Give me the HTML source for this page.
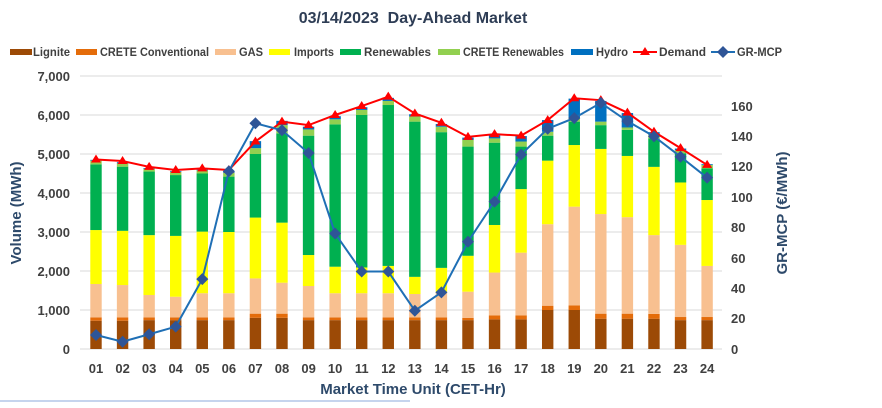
<!DOCTYPE html>
<html><head><meta charset="utf-8"><style>
body{margin:0;background:#fff;width:882px;height:403px;overflow:hidden}
svg text{font-family:"Liberation Sans",sans-serif;font-weight:bold}
</style></head><body>
<svg id="s" width="882" height="403" viewBox="0 0 882 403" xmlns="http://www.w3.org/2000/svg">
<text x="413" y="23" text-anchor="middle" font-size="16" fill="#2e3d55" xml:space="preserve">03/14/2023&#160; Day-Ahead Market</text>
<g font-size="12" fill="#404040">
<rect x="10" y="49" width="22" height="6" fill="#9c4a06"/><text x="33" y="56" textLength="37" lengthAdjust="spacingAndGlyphs">Lignite</text>
<rect x="76" y="49" width="21" height="6" fill="#e46c0a"/><text x="100" y="56" textLength="109" lengthAdjust="spacingAndGlyphs">CRETE Conventional</text>
<rect x="215" y="49" width="21" height="6" fill="#f8c090"/><text x="239" y="56" textLength="24" lengthAdjust="spacingAndGlyphs">GAS</text>
<rect x="269" y="49" width="21" height="6" fill="#ffff00"/><text x="294" y="56" textLength="40" lengthAdjust="spacingAndGlyphs">Imports</text>
<rect x="340" y="49" width="21" height="6" fill="#00b050"/><text x="364" y="56" textLength="67" lengthAdjust="spacingAndGlyphs">Renewables</text>
<rect x="438" y="49" width="22" height="6" fill="#92d050"/><text x="463" y="56" textLength="101" lengthAdjust="spacingAndGlyphs">CRETE Renewables</text>
<rect x="571" y="49" width="22" height="6" fill="#0070c0"/><text x="596" y="56" textLength="32" lengthAdjust="spacingAndGlyphs">Hydro</text>
<line x1="633" y1="52" x2="657" y2="52" stroke="#ff0000" stroke-width="2"/><polygon points="645,47 650,55 640,55" fill="#ff0000"/><text x="659" y="56" textLength="47" lengthAdjust="spacingAndGlyphs">Demand</text>
<line x1="711" y1="52" x2="735" y2="52" stroke="#1f6fb5" stroke-width="2"/><polygon points="723,46 729,52 723,58 717,52" fill="#2f5597"/><text x="737" y="56" textLength="45" lengthAdjust="spacingAndGlyphs">GR-MCP</text>
</g>
<g id="grid" stroke="#d9d9d9" stroke-width="1"></g>
<g id="bars"></g>
<g id="lines"></g>
<g font-size="13" fill="#404040" text-anchor="end">
<text x="70" y="354">0</text><text x="70" y="315">1,000</text><text x="70" y="276">2,000</text><text x="70" y="237">3,000</text><text x="70" y="198">4,000</text><text x="70" y="159">5,000</text><text x="70" y="120">6,000</text><text x="70" y="81">7,000</text>
</g>
<g font-size="13" fill="#404040">
<text x="731" y="354">0</text><text x="731" y="323">20</text><text x="731" y="293">40</text><text x="731" y="263">60</text><text x="731" y="232">80</text><text x="731" y="202">100</text><text x="731" y="171">120</text><text x="731" y="141">140</text><text x="731" y="111">160</text>
</g>
<g font-size="13" fill="#404040" text-anchor="middle">
<text x="96" y="373">01</text><text x="122.6" y="373">02</text><text x="149.1" y="373">03</text><text x="175.7" y="373">04</text><text x="202.3" y="373">05</text><text x="228.9" y="373">06</text><text x="255.4" y="373">07</text><text x="282" y="373">08</text><text x="308.6" y="373">09</text><text x="335.1" y="373">10</text><text x="361.7" y="373">11</text><text x="388.3" y="373">12</text><text x="414.8" y="373">13</text><text x="441.4" y="373">14</text><text x="468" y="373">15</text><text x="494.6" y="373">16</text><text x="521.1" y="373">17</text><text x="547.7" y="373">18</text><text x="574.3" y="373">19</text><text x="600.8" y="373">20</text><text x="627.4" y="373">21</text><text x="654" y="373">22</text><text x="680.5" y="373">23</text><text x="707.1" y="373">24</text>
</g>
<text x="413" y="394" text-anchor="middle" font-size="15" fill="#2e4a6b">Market Time Unit (CET-Hr)</text>
<text transform="translate(21,213) rotate(-90)" text-anchor="middle" font-size="15" fill="#2e4a6b">Volume (MWh)</text>
<text transform="translate(787,213) rotate(-90)" text-anchor="middle" font-size="15" fill="#2e4a6b">GR-MCP (€/MWh)</text>
<line x1="0" y1="401" x2="410" y2="401" stroke="#8eaadb" stroke-width="1"/>
</svg>
<script>
var NS="http://www.w3.org/2000/svg";
function el(p,t,a){var e=document.createElementNS(NS,t);for(var k in a)e.setAttribute(k,a[k]);p.appendChild(e);return e;}
var B=349,K=0.039,R=1.519;
var g=document.getElementById('grid');
for(var i=1;i<=7;i++)el(g,'line',{x1:80,x2:722,y1:B-i*39,y2:B-i*39});
el(g,'line',{x1:80,x2:722,y1:B,y2:B});
var D=[
[725,812,1667,3050,4735,4830,4850],
[725,812,1640,3030,4675,4760,4790],
[740,810,1385,2920,4550,4620,4640],
[740,810,1340,2900,4460,4540,4560],
[740,810,1430,3010,4500,4580,4600],
[740,810,1430,3000,4420,4520,4560],
[800,906,1810,3370,5000,5150,5330],
[800,906,1700,3240,5530,5740,5850],
[740,812,1615,2410,5470,5630,5700],
[740,810,1430,2110,5760,5890,5970],
[740,810,1430,2090,6000,6130,6200],
[740,810,1430,2130,6256,6360,6440],
[740,810,1410,1850,5830,5960,6020],
[740,810,1440,2080,5560,5700,5770],
[740,800,1470,2390,5190,5360,5420],
[760,860,1960,3180,5290,5400,5480],
[760,860,2470,4100,5190,5320,5460],
[1000,1110,3200,4830,5470,5570,5870],
[1000,1120,3650,5230,5830,5910,6420],
[777,906,3460,5130,5740,5830,6360],
[777,906,3380,4950,5620,5680,6050],
[777,900,2920,4670,5400,5490,5560],
[740,820,2670,4270,5020,5100,5140],
[740,820,2130,3820,4630,4720,4740]];
var C=['#9c4a06','#e46c0a','#f8c090','#ffff00','#00b050','#92d050','#0070c0'];
var dem=[4860,4820,4670,4590,4630,4590,5320,5830,5740,6000,6230,6470,6040,5800,5440,5510,5470,5870,6430,6380,6060,5570,5150,4720];
var mcp=[9.2,4.8,9.7,14.7,46,117,148.6,144,129,76,51,51,25.2,37.3,70.6,97,128,145,152,162,150,140,126.6,112.8];
var bg=document.getElementById('bars');
function X(i){return 96+i*26.57;}
D.forEach(function(d,i){var prev=0;d.forEach(function(v,j){if(v>prev){el(bg,'rect',{x:X(i)-5.7,width:11.4,y:B-v*K,height:(v-prev)*K,fill:C[j]});prev=v;}});});
var lg=document.getElementById('lines');
el(lg,'polyline',{points:dem.map(function(v,i){return X(i)+','+(B-v*K)}).join(' '),fill:'none',stroke:'#ff0000','stroke-width':2});
dem.forEach(function(v,i){var x=X(i),y=B-v*K;el(lg,'polygon',{points:x+','+(y-5)+' '+(x+5)+','+(y+3)+' '+(x-5)+','+(y+3),fill:'#ff0000'});});
el(lg,'polyline',{points:mcp.map(function(v,i){return X(i)+','+(B-v*R)}).join(' '),fill:'none',stroke:'#1f6fb5','stroke-width':2});
mcp.forEach(function(v,i){var x=X(i),y=B-v*R;el(lg,'polygon',{points:x+','+(y-6)+' '+(x+6)+','+y+' '+x+','+(y+6)+' '+(x-6)+','+y,fill:'#2f5597'});});
</script>
</body></html>
